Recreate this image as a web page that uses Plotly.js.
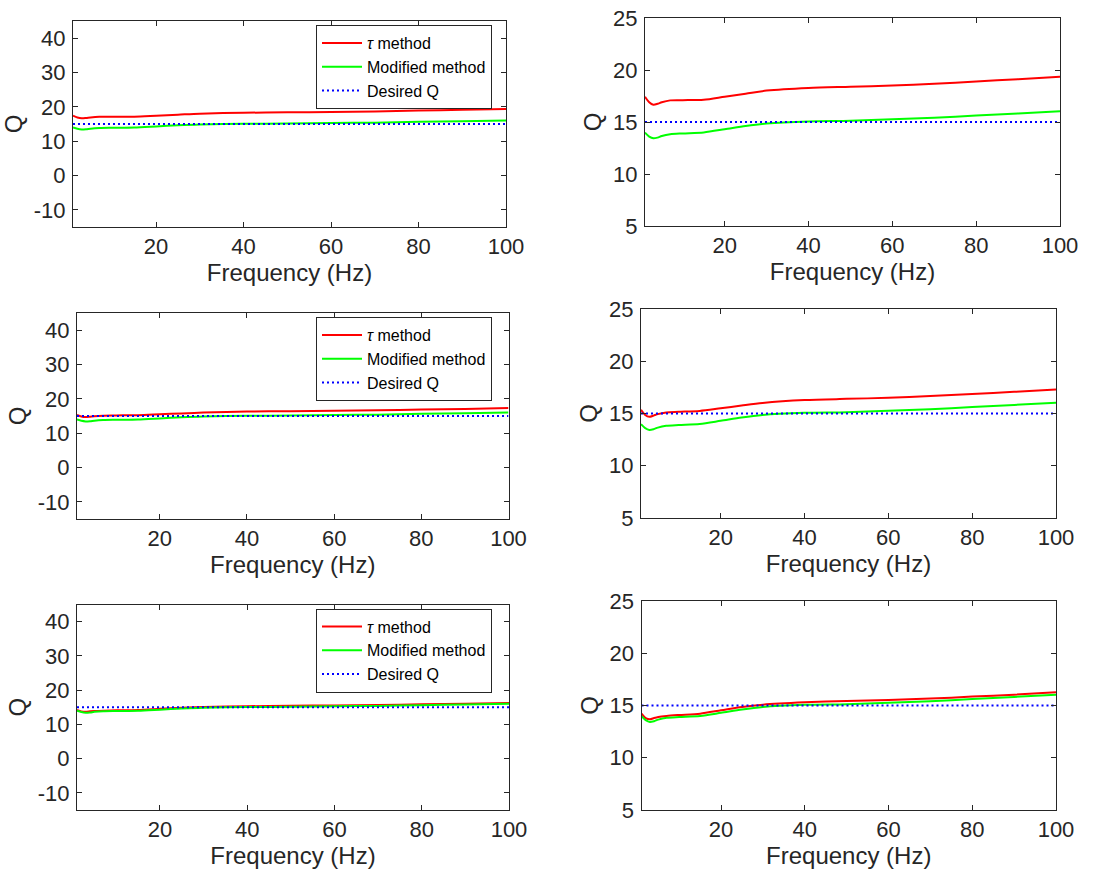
<!DOCTYPE html>
<html>
<head>
<meta charset="utf-8">
<script src="https://cdn.plot.ly/plotly-3.0.1.min.js"></script>
<style>
html,body{margin:0;padding:0;background:#fff;}
#chart{width:1112px;height:869px;}
</style>
</head>
<body>
<div id="chart"></div>
<script>
// ---- data ----
const freq = [1, 2, 3, 4, 5, 7, 10, 15, 20, 25, 30, 40, 50, 60, 70, 80, 90, 100];
const tauRow1 = [17.43, 16.9, 16.66, 16.75, 16.9, 17.08, 17.1, 17.14, 17.43, 17.72, 18.02, 18.28, 18.39, 18.5, 18.67, 18.9, 19.12, 19.35];
const tauRow2 = [15.35, 14.85, 14.68, 14.8, 14.94, 15.1, 15.16, 15.25, 15.5, 15.76, 16.0, 16.28, 16.4, 16.5, 16.68, 16.86, 17.07, 17.3];
const tauRow3 = [14.22, 13.8, 13.68, 13.8, 13.9, 14.0, 14.09, 14.22, 14.54, 14.86, 15.08, 15.3, 15.43, 15.53, 15.66, 15.85, 16.04, 16.26];
const modifiedQ = [13.98, 13.6, 13.43, 13.5, 13.65, 13.82, 13.9, 14.0, 14.3, 14.62, 14.86, 15.06, 15.13, 15.27, 15.4, 15.62, 15.82, 16.03];
const desiredX = [1, 100];
const desiredY = [15, 15];
const xTicks = [20, 40, 60, 80, 100];
const xTickText = ['20', '40', '60', '80', '100'];
const yTicksLeft = [-10, 0, 10, 20, 30, 40];
const yTickTextLeft = ['-10', '0', '10', '20', '30', '40'];
const yTicksRight = [5, 10, 15, 20, 25];
const yTickTextRight = ['5', '10', '15', '20', '25'];
const seriesNames = ['<i>τ</i> method', 'Modified method', 'Desired Q'];
const xTitle = 'Frequency (Hz)';
const yTitle = 'Q';

// ---- layout geometry (pixels in the 1112x869 figure) ----
const W = 1112, H = 869;
const panels = [
  {x: [73, 506],   y: [21, 227],  tau: tauRow1, yr: [-15, 45], yt: yTicksLeft,  ytt: yTickTextLeft,  leg: 'legend'},
  {x: [645, 1060], y: [18, 226],  tau: tauRow1, yr: [5, 25],   yt: yTicksRight, ytt: yTickTextRight, leg: null},
  {x: [77, 508.5], y: [313, 519], tau: tauRow2, yr: [-15, 45], yt: yTicksLeft,  ytt: yTickTextLeft,  leg: 'legend2'},
  {x: [641, 1056], y: [309, 518], tau: tauRow2, yr: [5, 25],   yt: yTicksRight, ytt: yTickTextRight, leg: null},
  {x: [77, 509],   y: [604.5, 810], tau: tauRow3, yr: [-15, 45], yt: yTicksLeft, ytt: yTickTextLeft, leg: 'legend3'},
  {x: [641.5, 1056], y: [601, 810], tau: tauRow3, yr: [5, 25], yt: yTicksRight, ytt: yTickTextRight, leg: null}
];

const FONT = 'Liberation Sans, Arial, Helvetica, sans-serif';
const TXT = '#262626';
const TICKSIZE = 22;

const traces = [];
const layout = {
  width: W, height: H,
  margin: {l: 0, r: 0, t: 0, b: 0},
  paper_bgcolor: '#fff', plot_bgcolor: '#fff',
  font: {family: FONT, color: TXT, size: TICKSIZE},
  showlegend: true
};

panels.forEach((p, i) => {
  const n = i === 0 ? '' : String(i + 1);
  const xa = 'x' + n, ya = 'y' + n;
  const legendId = p.leg || 'legend';
  const show = !!p.leg;
  traces.push({x: freq, y: p.tau, xaxis: xa, yaxis: ya, mode: 'lines', name: seriesNames[0],
    line: {color: '#ff0000', width: 2, shape: 'spline', smoothing: 0.8}, showlegend: show, legend: legendId});
  traces.push({x: freq, y: modifiedQ, xaxis: xa, yaxis: ya, mode: 'lines', name: seriesNames[1],
    line: {color: '#00ff00', width: 2, shape: 'spline', smoothing: 0.8}, showlegend: show, legend: legendId});
  traces.push({x: desiredX, y: desiredY, xaxis: xa, yaxis: ya, mode: 'lines', name: seriesNames[2],
    line: {color: '#0000ff', width: 2, dash: '2px,3px'}, showlegend: show, legend: legendId});

  const common = {
    showgrid: false, zeroline: false, showline: true, mirror: 'ticks',
    linecolor: TXT, linewidth: 1, ticks: 'inside', ticklen: 5, tickcolor: TXT,
    tickfont: {family: FONT, size: TICKSIZE, color: TXT}, automargin: false
  };
  layout['xaxis' + n] = Object.assign({}, common, {
    domain: [p.x[0] / W, p.x[1] / W], anchor: ya, range: [1, 100],
    tickmode: 'array', tickvals: xTicks, ticktext: xTickText, ticklabelstandoff: 0,
    title: {text: xTitle, font: {family: FONT, size: 24, color: TXT}, standoff: 0}
  });
  layout['yaxis' + n] = Object.assign({}, common, {
    domain: [1 - p.y[1] / H, 1 - p.y[0] / H], anchor: xa, range: p.yr,
    tickmode: 'array', tickvals: p.yt, ticktext: p.ytt, ticklabelstandoff: 2,
    title: {text: yTitle, font: {family: FONT, size: 24, color: TXT}, standoff: 4}
  });
  if (p.leg) {
    layout[p.leg] = {
      x: 492 / W, xanchor: 'right', y: 1 - (p.y[0] + 4) / H, yanchor: 'top',
      bgcolor: '#fff', bordercolor: TXT, borderwidth: 1,
      font: {family: FONT, size: 16, color: '#000'}, itemwidth: 40
    };
  }
});

Plotly.newPlot('chart', traces, layout, {staticPlot: true});
</script>
</body>
</html>
